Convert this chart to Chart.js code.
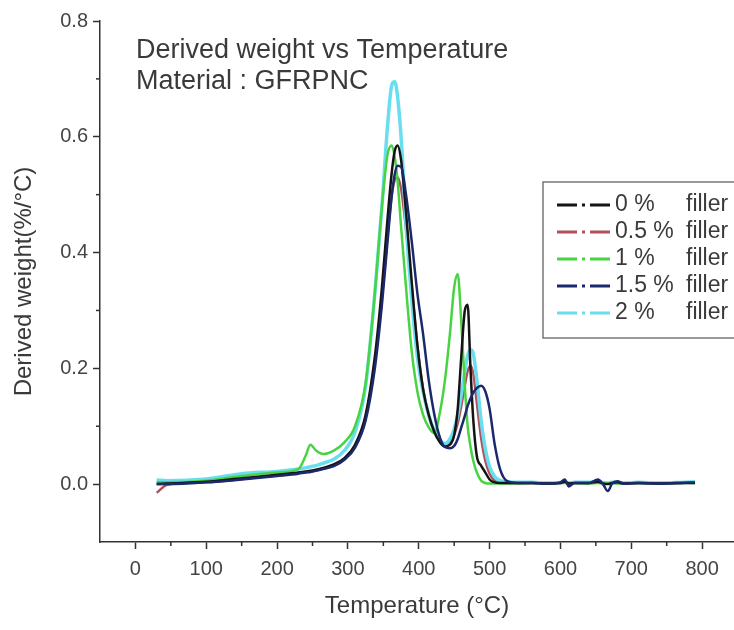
<!DOCTYPE html>
<html>
<head>
<meta charset="utf-8">
<title>Derived weight vs Temperature</title>
<script src="https://cdn.jsdelivr.net/npm/chart.js@4.4.0/dist/chart.umd.min.js"></script>
<style>
  html, body { margin: 0; padding: 0; background: #fff; }
  canvas { display: block; }
</style>
</head>
<body>
<canvas id="dtgChart" width="734" height="630"></canvas>
<script>
// temperature grid (°C)
let temps = [
    30, 45, 100, 150, 200, 230, 240, 247, 255, 265,
    280, 295, 310, 325, 338, 348, 356, 362, 366, 370,
    375, 382, 390, 398, 406, 414, 422, 430, 437, 444,
    450, 455, 460, 465, 469, 473, 477, 482, 488, 494,
    500, 507, 515, 525, 540, 560, 580, 600, 606, 612,
    620, 640, 653, 660, 667, 673, 680, 690, 710, 740,
    770, 790
];

// derived weight (%/°C) per filler content
let filler0 = [
    0.000, 0.001, 0.004, 0.010, 0.016, 0.020, 0.022, 0.023, 0.025, 0.028,
    0.034, 0.045, 0.068, 0.120, 0.220, 0.340, 0.460, 0.540, 0.575, 0.585,
    0.560, 0.470, 0.350, 0.240, 0.165, 0.120, 0.090, 0.072, 0.065, 0.068,
    0.085, 0.130, 0.220, 0.300, 0.310, 0.200, 0.110, 0.048, 0.032, 0.020,
    0.008, 0.003, 0.002, 0.002, 0.002, 0.002, 0.001, 0.002, 0.004, 0.001,
    0.002, 0.002, 0.004, 0.001, 0.000, 0.002, 0.003, 0.001, 0.002, 0.001,
    0.002, 0.002
];

let filler05 = [
    -0.015, -0.001, 0.003, 0.009, 0.015, 0.019, 0.021, 0.022, 0.024, 0.027,
    0.032, 0.043, 0.065, 0.115, 0.210, 0.320, 0.430, 0.500, 0.525, 0.530,
    0.510, 0.440, 0.340, 0.240, 0.165, 0.118, 0.090, 0.074, 0.068, 0.072,
    0.085, 0.105, 0.135, 0.170, 0.195, 0.205, 0.190, 0.140, 0.080, 0.040,
    0.018, 0.006, 0.003, 0.002, 0.002, 0.002, 0.002, 0.002, 0.003, 0.002,
    0.002, 0.002, 0.003, 0.002, 0.001, 0.002, 0.002, 0.002, 0.002, 0.002,
    0.002, 0.003
];

let filler1 = [
    0.003, 0.003, 0.006, 0.014, 0.020, 0.026, 0.048, 0.068, 0.058, 0.052,
    0.058, 0.072, 0.100, 0.175, 0.330, 0.480, 0.570, 0.585, 0.565, 0.525,
    0.445, 0.340, 0.230, 0.160, 0.120, 0.098, 0.088, 0.125, 0.180, 0.260,
    0.340, 0.363, 0.280, 0.170, 0.100, 0.065, 0.040, 0.020, 0.006, 0.002,
    0.001, 0.001, 0.001, 0.001, 0.001, 0.002, 0.001, 0.002, 0.002, 0.001,
    0.002, 0.001, 0.002, 0.001, 0.001, 0.002, 0.001, 0.001, 0.002, 0.001,
    0.002, 0.002
];

let filler15 = [
    0.000, 0.000, 0.003, 0.008, 0.014, 0.018, 0.020, 0.021, 0.023, 0.026,
    0.031, 0.042, 0.063, 0.110, 0.200, 0.310, 0.420, 0.500, 0.535, 0.550,
    0.548, 0.500, 0.420, 0.330, 0.260, 0.180, 0.120, 0.080, 0.064, 0.062,
    0.066, 0.078, 0.098, 0.118, 0.135, 0.148, 0.158, 0.166, 0.170, 0.160,
    0.130, 0.070, 0.025, 0.005, 0.002, 0.002, 0.001, 0.003, 0.008, -0.004,
    0.002, 0.002, 0.008, 0.000, -0.012, 0.001, 0.005, 0.001, 0.002, 0.001,
    0.002, 0.003
];

let filler2 = [
    0.007, 0.006, 0.009, 0.018, 0.022, 0.026, 0.028, 0.030, 0.032, 0.036,
    0.043, 0.058, 0.090, 0.170, 0.330, 0.480, 0.620, 0.690, 0.695, 0.670,
    0.600, 0.450, 0.320, 0.220, 0.160, 0.120, 0.092, 0.076, 0.070, 0.078,
    0.095, 0.120, 0.155, 0.195, 0.222, 0.232, 0.225, 0.180, 0.110, 0.060,
    0.030, 0.013, 0.006, 0.004, 0.003, 0.003, 0.002, 0.003, 0.004, 0.002,
    0.003, 0.003, 0.004, 0.003, 0.002, 0.003, 0.003, 0.002, 0.003, 0.002,
    0.003, 0.004
];

let seriesNames = ['0 %', '0.5 %', '1 %', '1.5 %', '2 %'];
let seriesValues = [filler0, filler05, filler1, filler15, filler2];
let seriesColors = ['#141414', 'rgb(175, 80, 92)', 'rgb(72, 212, 66)', 'rgb(28, 40, 108)', 'rgb(105, 222, 238)'];
let seriesWidths = [2.5, 2.5, 2.5, 2.5, 3.5];
let seriesOrder = [1, 4, 2, 0, 3];

// axis ticks
let xTicks = [0, 100, 200, 300, 400, 500, 600, 700, 800];
let xMinor = [50, 150, 250, 350, 450, 550, 650, 750];
let yTicks = [0.0, 0.2, 0.4, 0.6, 0.8];
let yMinor = [0.1, 0.3, 0.5, 0.7];

const axisColor = '#333';
const textColor = '#3a3a3a';
Chart.defaults.font.family = "'Liberation Sans', Arial, sans-serif";

const datasets = seriesValues.map((vals, i) => ({
    label: seriesNames[i] + ' filler',
    data: temps.map((t, j) => ({ x: t, y: vals[j] })),
    borderColor: seriesColors[i],
    backgroundColor: seriesColors[i],
    borderWidth: seriesWidths[i],
    pointRadius: 0,
    cubicInterpolationMode: 'monotone',
    order: seriesOrder[i]
}));

// minor ticks on both axes
const minorTicks = {
    id: 'minorTicks',
    afterDraw(chart) {
        const { ctx, chartArea } = chart;
        const x = chart.scales.x, y = chart.scales.y;
        ctx.save();
        ctx.strokeStyle = axisColor;
        ctx.lineWidth = 1.5;
        xMinor.forEach(v => {
            const px = x.getPixelForValue(v);
            ctx.beginPath();
            ctx.moveTo(px, chartArea.bottom);
            ctx.lineTo(px, chartArea.bottom + 4);
            ctx.stroke();
        });
        yMinor.forEach(v => {
            const py = y.getPixelForValue(v);
            ctx.beginPath();
            ctx.moveTo(chartArea.left, py);
            ctx.lineTo(chartArea.left - 4, py);
            ctx.stroke();
        });
        ctx.restore();
    }
};

// two-line caption in the top-left of the plot
const caption = {
    id: 'caption',
    afterDraw(chart) {
        const { ctx } = chart;
        ctx.save();
        ctx.fillStyle = textColor;
        ctx.font = "27px 'Liberation Sans', Arial, sans-serif";
        ctx.textBaseline = 'alphabetic';
        ctx.fillText('Derived weight vs Temperature', 136, 58);
        ctx.fillText('Material : GFRPNC', 136, 89);
        ctx.restore();
    }
};

// boxed legend with dash-dot samples
const boxLegend = {
    id: 'boxLegend',
    afterDraw(chart) {
        const { ctx } = chart;
        const left = 543, top = 182, rowH = 27;
        ctx.save();
        ctx.fillStyle = '#fff';
        ctx.fillRect(left, top, 200, 156);
        ctx.strokeStyle = '#555';
        ctx.lineWidth = 1.2;
        ctx.strokeRect(left, top, 200, 156);
        ctx.font = "23px 'Liberation Sans', Arial, sans-serif";
        ctx.textBaseline = 'middle';
        chart.data.datasets.forEach((ds, i) => {
            const cy = top + 23 + i * rowH;
            ctx.strokeStyle = ds.borderColor;
            ctx.lineWidth = 3;
            ctx.setLineDash([20, 5, 3, 5]);
            ctx.beginPath();
            ctx.moveTo(557, cy);
            ctx.lineTo(611, cy);
            ctx.stroke();
            ctx.setLineDash([]);
            ctx.fillStyle = textColor;
            ctx.fillText(seriesNames[i], 615, cy);
            ctx.fillText('filler', 686, cy);
        });
        ctx.restore();
    }
};

const config = {
    type: 'line',
    data: { datasets: datasets },
    options: {
        responsive: false,
        animation: false,
        devicePixelRatio: 1,
        layout: { padding: { top: 21, right: 0, left: 0, bottom: 0 } },
        plugins: {
            legend: { display: false },
            tooltip: { enabled: false }
        },
        scales: {
            x: {
                type: 'linear',
                min: -50,
                max: 845,
                afterBuildTicks(scale) { scale.ticks = xTicks.map(v => ({ value: v })); },
                afterFit(scale) { scale.height = 88; },
                ticks: {
                    autoSkip: false,
                    color: '#444',
                    font: { size: 20 },
                    padding: 8,
                    maxRotation: 0,
                    callback: v => String(v)
                },
                grid: { drawOnChartArea: false, drawTicks: true, tickLength: 7, tickColor: axisColor, tickWidth: 1.5 },
                border: { display: true, color: axisColor, width: 1.5 },
                title: {
                    display: true,
                    text: 'Temperature (°C)',
                    color: textColor,
                    font: { size: 24 },
                    padding: { top: 4, bottom: 9 }
                }
            },
            y: {
                min: -0.1,
                max: 0.8,
                afterBuildTicks(scale) { scale.ticks = yTicks.map(v => ({ value: v })); },
                afterFit(scale) { scale.width = 100; },
                ticks: {
                    autoSkip: false,
                    color: '#444',
                    font: { size: 20 },
                    padding: 5,
                    callback: v => v.toFixed(1)
                },
                grid: { drawOnChartArea: false, drawTicks: true, tickLength: 7, tickColor: axisColor, tickWidth: 1.5 },
                border: { display: true, color: axisColor, width: 1.5 },
                title: {
                    display: true,
                    text: 'Derived weight(%/°C)',
                    color: textColor,
                    font: { size: 24 },
                    padding: { top: 10, bottom: 0 }
                }
            }
        }
    },
    plugins: [minorTicks, caption, boxLegend]
};

const chart = new Chart(document.getElementById('dtgChart'), config);
</script>
</body>
</html>
